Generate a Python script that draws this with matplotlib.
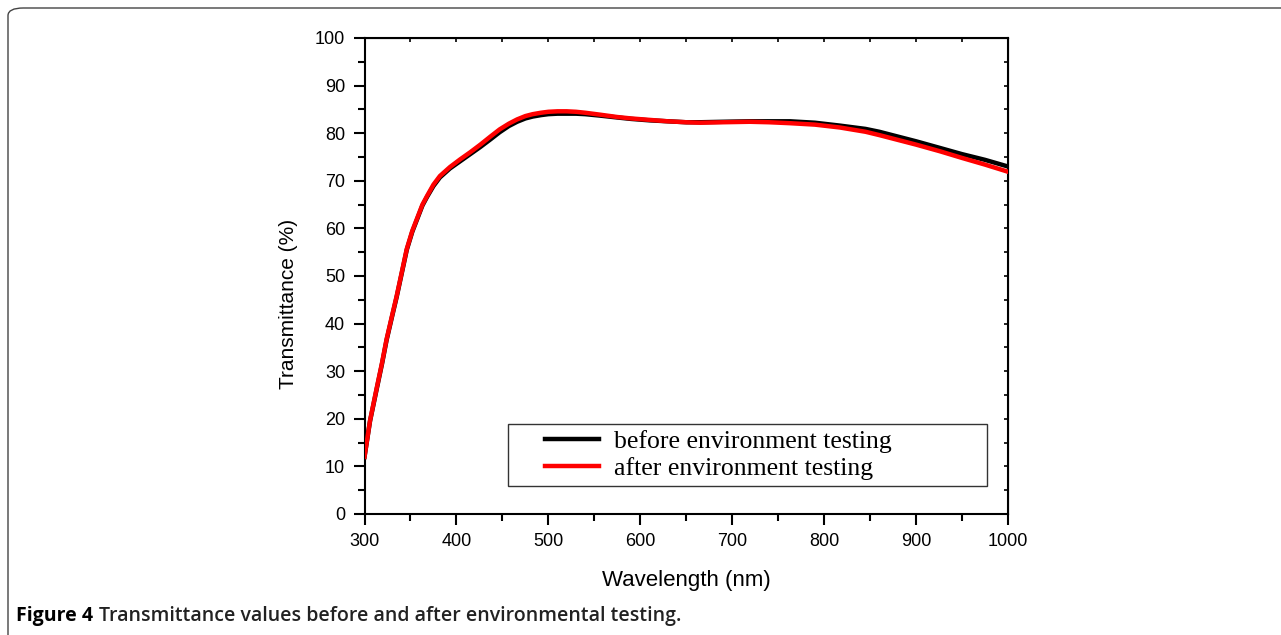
import matplotlib
matplotlib.use("Agg")
import matplotlib.pyplot as plt
from matplotlib.patches import FancyBboxPatch, Rectangle
from matplotlib.ticker import MultipleLocator

# wavelength (nm) and transmittance (%)
wl = [300, 306, 313, 319, 324, 330, 335, 341, 346, 352, 357, 363, 368, 375, 382,
      393, 404, 415, 426, 437, 447, 457, 466, 475, 483, 492, 500, 510, 520, 530,
      540, 556, 575, 590, 610, 630, 650, 665, 690, 719, 740, 763, 790, 817, 845,
      860, 872, 900, 926, 950, 975, 1000]
before = [12.0, 19.5, 26.0, 31.5, 36.5, 41.5, 45.6, 51.0, 55.5, 59.3, 61.8, 64.8,
          66.6, 68.9, 70.7, 72.6, 74.1, 75.6, 77.1, 78.7, 80.2, 81.5, 82.4, 83.1,
          83.5, 83.8, 84.0, 84.1, 84.1, 84.1, 84.0, 83.7, 83.3, 83.0, 82.7, 82.5,
          82.3, 82.3, 82.4, 82.5, 82.5, 82.5, 82.2, 81.6, 80.9, 80.3, 79.7, 78.3,
          76.9, 75.6, 74.4, 73.0]
after = [12.0, 19.6, 26.2, 31.7, 36.7, 41.7, 45.8, 51.2, 55.7, 59.5, 62.0, 65.0,
         66.8, 69.2, 71.0, 72.9, 74.5, 76.0, 77.6, 79.3, 80.8, 82.0, 82.9, 83.6,
         84.0, 84.3, 84.5, 84.6, 84.6, 84.5, 84.3, 83.9, 83.4, 83.1, 82.8, 82.5,
         82.3, 82.2, 82.3, 82.4, 82.3, 82.1, 81.8, 81.2, 80.3, 79.6, 79.0, 77.6,
         76.2, 74.8, 73.4, 71.9]

labels = ["before environment testing", "after environment testing"]
caption_bold = "Figure 4"
caption = "Transmittance values before and after environmental testing."

W, H = 1281, 635
fig = plt.figure(figsize=(W / 100, H / 100), dpi=100)

# rounded frame around the whole figure
fig.patches.append(FancyBboxPatch((8 / W, -20 / H), 1300 / W, (H - 8 + 20) / H,
                                  boxstyle="round,pad=0,rounding_size=0.012",
                                  transform=fig.transFigure, fill=False,
                                  edgecolor="#444444", linewidth=1.0))

ax = fig.add_axes([364.5 / W, (H - 514) / H, 643.5 / W, 476 / H])
ax.plot(wl, before, color="black", lw=3.2, label=labels[0], zorder=2)
ax.plot(wl, after, color="#ff0000", lw=3.2, label=labels[1], zorder=3)

ax.set_xlim(300, 1000)
ax.set_ylim(0, 100)
ax.xaxis.set_major_locator(MultipleLocator(100))
ax.xaxis.set_minor_locator(MultipleLocator(50))
ax.yaxis.set_major_locator(MultipleLocator(10))
ax.yaxis.set_minor_locator(MultipleLocator(5))

tick_font = "Liberation Sans"
ax.tick_params(which="major", direction="out", length=8, width=1.5,
               labelsize=13, pad=6)
ax.tick_params(which="minor", direction="out", length=5, width=1.5)
for lab in ax.get_xticklabels() + ax.get_yticklabels():
    lab.set_fontfamily(tick_font)
for sp in ax.spines.values():
    sp.set_linewidth(1.5)

# inward ticks on top and right
top = ax.secondary_xaxis("top")
top.xaxis.set_major_locator(MultipleLocator(50))
top.tick_params(direction="in", length=3, width=1.2, labeltop=False)
right = ax.secondary_yaxis("right")
right.yaxis.set_major_locator(MultipleLocator(5))
right.tick_params(direction="in", length=3, width=1.2, labelright=False)

ax.set_xlabel("Wavelength (nm)", fontsize=16, fontfamily=tick_font, labelpad=14)
ax.set_ylabel("Transmittance (%)", fontsize=15, fontfamily=tick_font)
ax.yaxis.set_label_coords(-0.104, 0.441)

# legend box
ax.add_patch(Rectangle((0.223, 0.059), 0.744, 0.130, transform=ax.transAxes,
                       fill=False, edgecolor="#333333", lw=1.0, zorder=4))
ax.legend(loc="center left", bbox_to_anchor=(0.2805, 0.124), frameon=False,
          prop={"family": "Liberation Serif", "size": 18.5}, handlelength=2.1,
          handletextpad=0.6, labelspacing=0.12, borderpad=0, borderaxespad=0)

fig.text(16 / W, 1 - 621 / H, caption_bold, fontsize=14, fontweight="bold",
         fontfamily="Open Sans", va="baseline", ha="left")
fig.text(99 / W, 1 - 621 / H, caption, fontsize=14, fontweight="semibold",
         fontfamily="Open Sans", va="baseline", ha="left", color="#222222")

fig.savefig("out.png", dpi=100)
